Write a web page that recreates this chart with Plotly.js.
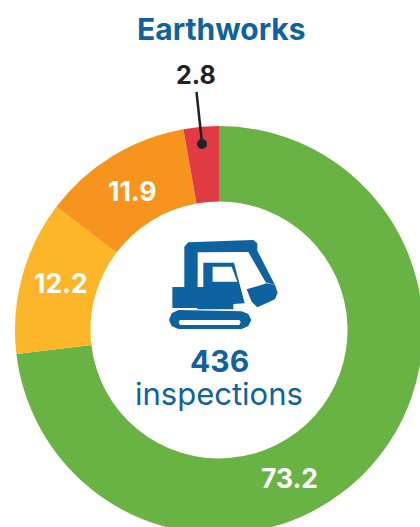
<!DOCTYPE html>
<html><head><meta charset="utf-8">
<script src="https://cdn.plot.ly/plotly-3.0.1.min.js"></script>
<style>html,body{margin:0;padding:0;width:420px;height:527px;overflow:hidden;background:#fff}#c{width:440px;height:560px}</style>
</head><body><div id="c"></div>
<script>
const categories=['Green','Yellow','Orange','Red'];
const values=[73.2,12.2,11.9,2.8];
const colors=['#69B345','#FDB52A','#F7941E','#E03A43'];
const labelPositions=[[289,478],[61,283],[132,191]];
const W=440,H=560;
const px=x=>x/W, py=y=>1-y/H;
const ink='#0F62A0';
function z(p){return p.map(([a,b],i)=>(i?'L':'M')+px(120+a/3).toFixed(4)+','+py(220+b/3).toFixed(4)).join(' ')+' Z';}
const boom=[[193,203],[193,80],[205,67],[400,60],[412,70],[412,92],[465,195],[437,187],[385,96],[233,97],[233,203]];
const bucket=[[380,208],[440,190],[465,195],[473,218],[465,238],[412,262],[395,245]];
const cab=[[157,201],[250,201],[250,128],[342,128],[374,250],[340,252],[340,268],[232,268],[232,264],[157,264]];
const win=[[278,140],[335,140],[352,185],[278,185]];
const track=[[175,270],[365,274],[385,282],[394,300],[385,318],[365,327],[175,327],[155,318],[147,300],[155,280]];
const slit=[[180,300],[358,300],[362,307],[358,315],[180,315],[176,307]];
const shape=(p,c)=>({type:'path',xref:'paper',yref:'paper',path:z(p),fillcolor:c,line:{width:0}});
const ann=(t,x,y,size,color,fam)=>({xref:'paper',yref:'paper',x:px(x),y:py(y),xanchor:'center',yanchor:'middle',showarrow:false,text:t,font:{size:size,color:color,family:fam||'Inter'}});
const bold=t=>'<b>'+t+'</b>';
const annotations=[
  ann(bold('Earthworks'),221,29,30,ink),
  ann(bold(String(values[3])),196,75,25,'#1f2328'),
  ann(bold('436'),219,361,30,ink),
  ann('inspections',219,393,31,ink),
  ...labelPositions.map((p,i)=>ann(bold(String(values[i])),p[0],p[1],26.5,'#fff'))
];
const shapes=[shape(boom,ink),shape(bucket,ink),shape(cab,ink),shape(win,'#fff'),shape(track,ink),shape(slit,'#fff'),
  {type:'line',xref:'paper',yref:'paper',x0:px(196.5),y0:py(92),x1:px(202),y1:py(143),line:{color:'#1f2328',width:2.5}},
  {type:'circle',xref:'paper',yref:'paper',x0:px(197),y0:py(149),x1:px(207),y1:py(139),fillcolor:'#1f2328',line:{width:0}}];
Plotly.newPlot('c',[{type:'pie',labels:categories,values:values,hole:0.63,sort:false,direction:'clockwise',rotation:0,
  marker:{colors:colors,line:{width:0}},textinfo:'none',hoverinfo:'skip',
  domain:{x:[15/W,423/W],y:[1-534/H,1-126/H]}}],
  {width:W,height:H,margin:{l:0,r:0,t:0,b:0},showlegend:false,paper_bgcolor:'#fff',annotations,shapes},{displayModeBar:false,staticPlot:true});
</script></body></html>
